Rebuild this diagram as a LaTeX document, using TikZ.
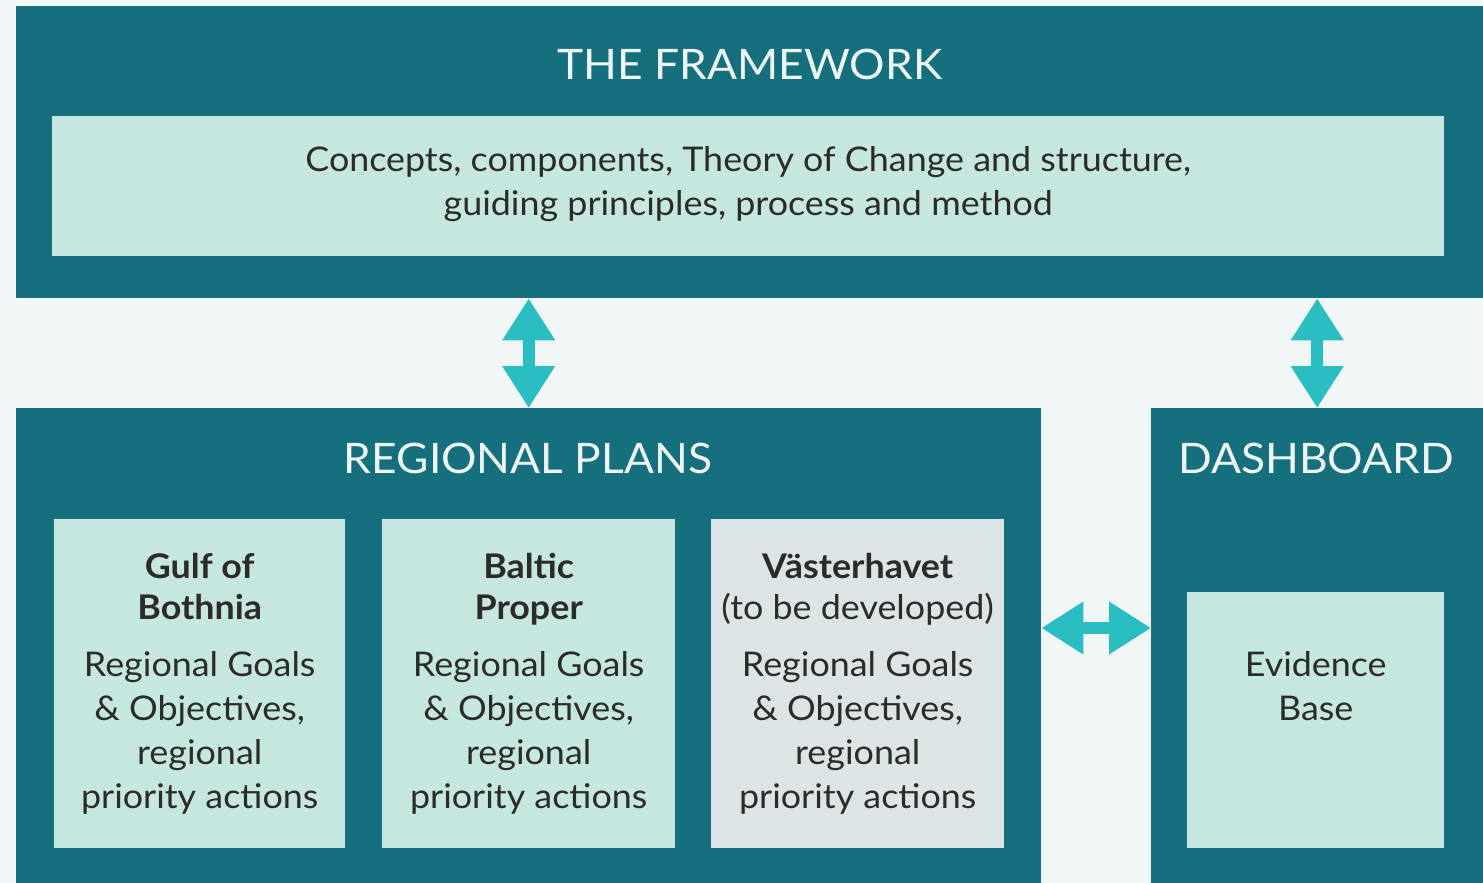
\documentclass[tikz,border=0pt]{standalone}
\usepackage{fontspec}
\setmainfont{Lato}[FakeStretch=1.055]
\usetikzlibrary{arrows.meta, positioning}

\definecolor{pagebg}{HTML}{F1F7F7}
\definecolor{frameteal}{HTML}{156F7C}
\definecolor{mintfill}{HTML}{C5E7E0}
\definecolor{greyfill}{HTML}{DCE4E6}
\definecolor{linkcyan}{HTML}{2ABDC2}
\definecolor{inkgrey}{HTML}{2B2B2B}
\definecolor{titlewhite}{HTML}{EEF6F6}

\begin{document}
\begin{tikzpicture}[x=1pt, y=-1pt,
  outerbox/.style={fill=frameteal, anchor=north west, inner sep=0pt},
  mintbox/.style={fill=mintfill, anchor=north west, inner sep=0pt},
  greybox/.style={fill=greyfill, anchor=north west, inner sep=0pt},
  headtext/.style={text=titlewhite, font=\fontsize{42}{44}\selectfont},
  bodytext/.style={text=inkgrey, align=center, inner sep=0pt,
    font=\fontsize{34}{44}\selectfont},
  twoway/.style={linkcyan, line width=12pt,
    {Triangle[width=50pt,length=42pt]}-{Triangle[width=50pt,length=42pt]}}]
  \fill[pagebg] (0,0) rectangle (1483,883);
  \useasboundingbox (0,0) rectangle (1483,883);

  % framework on top
  \node[outerbox, minimum width=1467pt, minimum height=292pt] (frame) at (16,6) {};
  \node[headtext] (frametitle) at (750,64) {THE FRAMEWORK};
  \node[mintbox, minimum width=1392pt, minimum height=140pt] (concepts) at (52,116) {};
  \node[bodytext, above=2pt of concepts.center, anchor=center] (conceptstext) {Concepts, components, Theory of Change and structure,\\guiding principles, process and method};

  % regional plans
  \node[outerbox, minimum width=1025pt, minimum height=475pt] (regional) at (16,408) {};
  \node[headtext] (regionaltitle) at (528,458) {REGIONAL PLANS};
  \node[mintbox, minimum width=291pt, minimum height=329pt] (gulf) at (54,519) {};
  \node[mintbox, minimum width=293pt, minimum height=329pt] (baltic) at (382,519) {};
  \node[greybox, minimum width=293pt, minimum height=329pt] (vast) at (711,519) {};
  \node[bodytext, anchor=north, below=34pt of gulf.north] (gulftext)
    {\textbf{Gulf of}\\[-3pt]\textbf{Bothnia}\\[13pt]Regional Goals\\\& Objectives,\\regional\\priority actions};
  \node[bodytext, anchor=north, below=34pt of baltic.north] (baltictext)
    {\textbf{Baltic}\\[-3pt]\textbf{Proper}\\[13pt]Regional Goals\\\& Objectives,\\regional\\priority actions};
  \node[bodytext, anchor=north, below=34pt of vast.north] (vasttext)
    {\textbf{Västerhavet}\\[-3pt](to be developed)\\[13pt]Regional Goals\\\& Objectives,\\regional\\priority actions};

  % dashboard
  \node[outerbox, minimum width=332pt, minimum height=475pt] (dashboard) at (1151,408) {};
  \node[headtext] (dashtitle) at (1316,458) {DASHBOARD};
  \node[mintbox, minimum width=257pt, minimum height=256pt] (evidence) at (1187,592) {};
  \node[bodytext, anchor=north, below=59pt of evidence.north] (evidencetext) {Evidence\\Base};

  % links
  \coordinate (linkrow) at (0,628);
  \draw[twoway] (frame.south -| regional.north) -- (regional.north);
  \draw[twoway] (frame.south -| dashboard.north) -- (dashboard.north);
  \draw[twoway] (regional.east |- linkrow) -- (dashboard.west |- linkrow);
\end{tikzpicture}
\end{document}
